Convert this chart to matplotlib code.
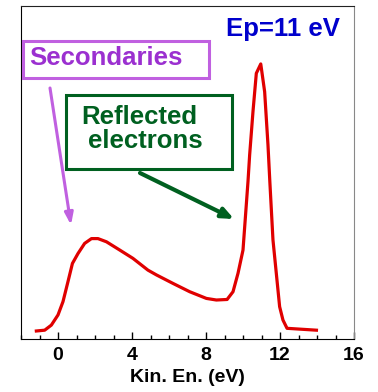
import matplotlib
matplotlib.use("Agg")
import matplotlib.pyplot as plt
from matplotlib.ticker import MultipleLocator
from matplotlib.patches import Rectangle

energy = [-1.17, -0.72, -0.36, 0.0, 0.27, 0.54, 0.78, 1.08, 1.44, 1.81, 2.16, 2.62,
          3.34, 4.05, 4.86, 5.32, 6.22, 7.12, 8.02, 8.56, 9.14, 9.46, 9.73, 10.0,
          10.27, 10.36, 10.54, 10.72, 10.96, 11.17, 11.35, 11.45, 11.62, 11.8, 11.98,
          12.16, 12.38, 13.97]
intensity = [0.0, 0.3, 2.2, 6.0, 11.0, 18.5, 25.3, 29.0, 32.8, 34.6, 34.6, 33.4,
             30.3, 27.2, 22.8, 21.0, 17.8, 14.7, 12.2, 11.6, 11.8, 14.7, 21.6, 30.3,
             56.0, 66.0, 82.2, 96.5, 100.0, 89.6, 69.7, 56.0, 34.1, 21.6, 9.1,
             4.1, 1.0, 0.3]
xticks = [0, 4, 8, 12, 16]

W, H = 378, 392
fig = plt.figure(figsize=(W/100, H/100), dpi=100)
ax = fig.add_axes([21/W, 1-339/H, (354-21)/W, (339-6)/H])
ax.plot(energy, intensity, color='#e00000', lw=2.3, solid_joinstyle='round')
ax.set_xlim(-2, 16)
ax.set_ylim(-3, 121.7)
ax.set_yticks([])
ax.set_xticks(xticks)
ax.xaxis.set_minor_locator(MultipleLocator(1))
ax.tick_params(axis='x', which='major', direction='in', length=5, width=1, pad=6)
ax.tick_params(axis='x', which='minor', direction='in', length=3, width=1)
for lab in ax.get_xticklabels():
    lab.set_fontweight('bold')
    lab.set_fontsize(14)
    lab.set_family('Liberation Sans')
ax.set_xlabel('Kin. En. (eV)', fontsize=14, fontweight='bold', family='Liberation Sans', labelpad=3)
ax.spines['right'].set_color('#888888')
ax.spines['top'].set_color('#222222')

def fx(px):
    return px / W

def fy(py):
    return 1 - py / H

ax.text(fx(340), fy(29), 'Ep=11 eV', transform=fig.transFigure, ha='right', va='center',
        fontsize=18.5, fontweight='bold', color='#0000cc', family='Liberation Sans')

fig.patches.append(Rectangle((fx(22.7), fy(77.7)), fx(209) - fx(22.7), fy(40.7) - fy(77.7),
                             transform=fig.transFigure, fill=False, ec='#c060e0', lw=2.2))
ax.text(fx(29), fy(58), 'Secondaries', transform=fig.transFigure, ha='left', va='center',
        fontsize=18.5, fontweight='bold', color='#9b30d0', family='Liberation Sans')

fig.patches.append(Rectangle((fx(65.7), fy(169.3)), fx(232.3) - fx(65.7), fy(95) - fy(169.3),
                             transform=fig.transFigure, fill=False, ec='#006020', lw=2.2))
ax.text(fx(81.5), fy(117), 'Reflected', transform=fig.transFigure, ha='left', va='center',
        fontsize=18.5, fontweight='bold', color='#006020', family='Liberation Sans')
ax.text(fx(88), fy(141), 'electrons', transform=fig.transFigure, ha='left', va='center',
        fontsize=18.5, fontweight='bold', color='#006020', family='Liberation Sans')

ax.annotate('', xy=(fx(71), fy(225)), xytext=(fx(50), fy(88)),
            xycoords='figure fraction', textcoords='figure fraction',
            arrowprops=dict(arrowstyle='-|>,head_length=0.7,head_width=0.25', color='#c060e0', lw=2.2,
                            shrinkA=0, shrinkB=0))
ax.annotate('', xy=(fx(234), fy(219)), xytext=(fx(140), fy(173)),
            xycoords='figure fraction', textcoords='figure fraction',
            arrowprops=dict(arrowstyle='-|>,head_length=0.7,head_width=0.3', color='#006020', lw=3,
                            shrinkA=0, shrinkB=0))

fig.savefig('out.png', dpi=100)
